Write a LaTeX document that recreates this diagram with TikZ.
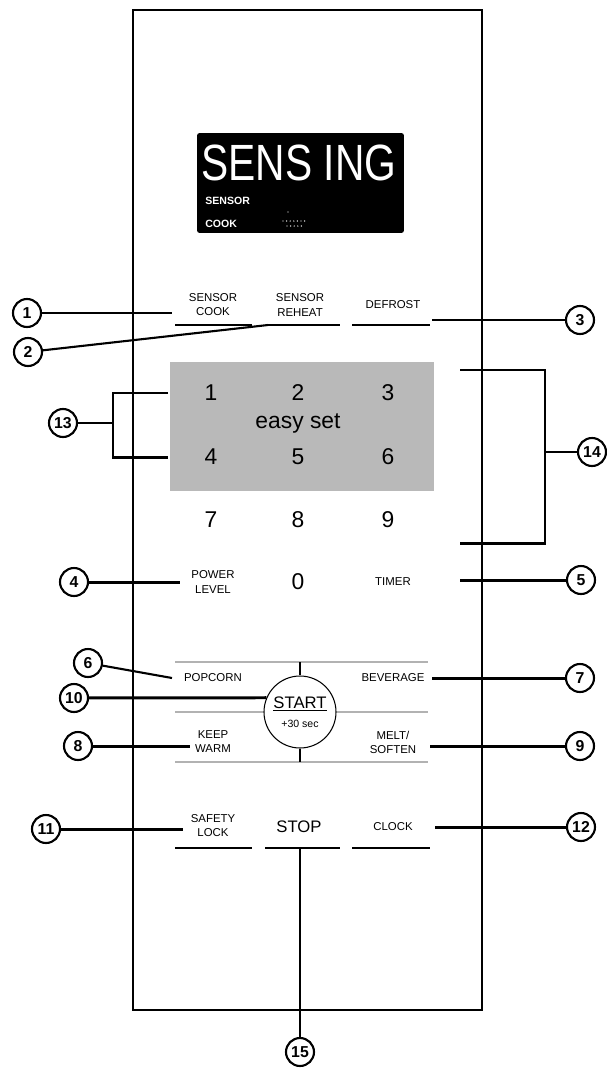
\documentclass[tikz,border=0pt]{standalone}
\usepackage{fontspec}
\usepackage{graphicx}
\setmainfont{Liberation Sans}

\begin{document}
\begin{tikzpicture}
[x=0.02cm, y=-0.02cm,
callout/.style={circle, draw=black, line width=1.2pt, fill=white, minimum size=0.56cm, inner sep=0pt, font=\fontsize{9}{9}\selectfont\bfseries},
keylabel/.style={draw=none, align=center, inner sep=1pt, font=\fontsize{6.5}{8}\selectfont},
digit/.style={draw=none, inner sep=1pt, font=\fontsize{13}{14}\selectfont},
lcdtext/.style={draw=none, inner sep=0pt, text=white, anchor=west, font=\fontsize{6}{6}\selectfont\bfseries},
leader/.style={line width=1.7pt},
midleader/.style={line width=1.2pt},
thinleader/.style={line width=0.8pt},
underl/.style={line width=0.6pt},
groove/.style={line width=1.6pt, gray!60}]
\useasboundingbox (0,0) rectangle (607,1072);

% panel
\draw[line width=1.1pt] (133,10) rectangle (482,1010);

% display
\node[draw=none, fill=black, rounded corners=1.5pt, minimum width=4.14cm, minimum height=2cm] (lcd) at (300.5,183) {};
\node[draw=none, text=white, inner sep=0pt, font=\fontsize{29}{29}\selectfont] (sensing) at (299,163) {\scalebox{0.8}[1]{SENS ING}};
\node[lcdtext] (lcdsensor) at (205,201) {SENSOR};
\node[lcdtext] (lcdcook) at (205,224) {COOK};
\fill[white] (288,212) circle (0.7);
\foreach \dx in {0,...,6} \fill[white] (283+\dx*3.6,221) circle (0.7);
\foreach \dx in {0,...,4} \fill[white] (287+\dx*3.6,226) circle (0.7);

% first row
\node[keylabel] (scook) at (213,305) {SENSOR\\COOK};
\node[keylabel] (sreheat) at (300,305) {SENSOR\\REHEAT};
\node[keylabel] (defrost) at (393,305) {DEFROST};
\draw[underl] (175,325) -- (252,325);
\draw[underl] (266,325) -- (340,325);
\draw[underl] (352,325) -- (430,325);

% keypad
\fill[gray!55] (170,362) rectangle (434,491);
\node[digit] (k1) at (211,393) {1};
\node[digit] (k2) at (298,393) {2};
\node[digit] (k3) at (388,393) {3};
\node[digit] (easy) at (298,423) {easy set};
\node[digit] (k4) at (211,457) {4};
\node[digit] (k5) at (298,457) {5};
\node[digit] (k6) at (388,457) {6};
\node[digit] (k7) at (211,520) {7};
\node[digit] (k8) at (298,520) {8};
\node[digit] (k9) at (388,520) {9};

% power row
\node[keylabel] (power) at (213,582) {POWER\\LEVEL};
\node[digit] (k0) at (298,582) {0};
\node[keylabel] (timer) at (393,582) {TIMER};

% quick keys
\draw[groove] (175,662) -- (428,662);
\draw[groove] (175,712) -- (265,712);
\draw[groove] (336,712) -- (428,712);
\draw[groove] (175,762) -- (428,762);
\node[circle, draw=black, line width=0.6pt, fill=white, minimum size=1.44cm, inner sep=0pt, align=center] (start) at (300,712)
  {{\fontsize{9.5}{10}\selectfont\underline{START}}\\[-1pt]{\fontsize{6}{7}\selectfont +30 sec}};
\coordinate (g1) at (300,662);
\coordinate (g3) at (300,762);
\draw[line width=0.9pt] (g1) -- (start.north);
\draw[line width=0.9pt] (start.south) -- (g3);
\node[keylabel] (popcorn) at (213,678) {POPCORN};
\node[keylabel] (beverage) at (393,678) {BEVERAGE};
\node[keylabel] (keep) at (213,742) {KEEP\\WARM};
\node[keylabel] (melt) at (393,742) {MELT/\\SOFTEN};

% last row
\node[keylabel] (safety) at (213,826) {SAFETY\\LOCK};
\node[draw=none, inner sep=1pt, font=\fontsize{9.5}{10}\selectfont] (stop) at (299,827) {STOP};
\node[keylabel] (clock) at (393,827) {CLOCK};
\draw[underl] (175,848) -- (252,848);
\draw[underl] (265,848) -- (340,848);
\draw[underl] (352,848) -- (430,848);

% callouts
\node[callout] (n1) at (27,313) {1};
\node[callout] (n2) at (28,352) {2};
\node[callout] (n3) at (580,320) {3};
\node[callout] (n13) at (63,423) {13};
\node[callout] (n14) at (592,452) {14};
\node[callout] (n4) at (74,582) {4};
\node[callout] (n5) at (581,580) {5};
\node[callout] (n6) at (88,663) {6};
\node[callout] (n7) at (580,678) {7};
\node[callout] (n10) at (74,698) {10};
\node[callout] (n8) at (78,746) {8};
\node[callout] (n9) at (580,746) {9};
\node[callout] (n11) at (46,829) {11};
\node[callout] (n12) at (581,827) {12};
\node[callout] (n15) at (300,1052) {15};

\coordinate (p1) at (172,313);
\coordinate (p2) at (268,325);
\coordinate (p3) at (432,320);
\coordinate (b13a) at (168,393);
\coordinate (b13v) at (113,423);
\coordinate (b13b) at (168,457);
\coordinate (b14a) at (460,370);
\coordinate (b14v) at (545,452);
\coordinate (b14b) at (460,543);
\coordinate (p4) at (180,582);
\coordinate (p5) at (460,580);
\coordinate (p6) at (172,678);
\coordinate (p7) at (432,678);
\coordinate (p8) at (190,746);
\coordinate (p9) at (430,746);
\coordinate (p11) at (183,829);
\coordinate (p12) at (435,827);
\coordinate (p15) at (300,848);

\draw[leader] (n1) to (p1);
\draw[midleader] (n2) to (p2);
\draw[leader] (p3) to (n3);
\draw[leader] (b13a) -| (b13v) |- (b13b);
\draw[leader] (n13) to (b13v);
\draw[leader] (b14a) -| (b14v) |- (b14b);
\draw[thinleader] (b14v) to (n14);
\draw[leader] (n4) to (p4);
\draw[leader] (p5) to (n5);
\draw[midleader] (n6) to (p6);
\draw[leader] (p7) to (n7);
\draw[leader] (n10) to (start.157);
\draw[leader] (n8) to (p8);
\draw[leader] (p9) to (n9);
\draw[leader] (n11) to (p11);
\draw[leader] (p12) to (n12);
\draw[leader] (p15) to (n15);

\end{tikzpicture}
\end{document}
